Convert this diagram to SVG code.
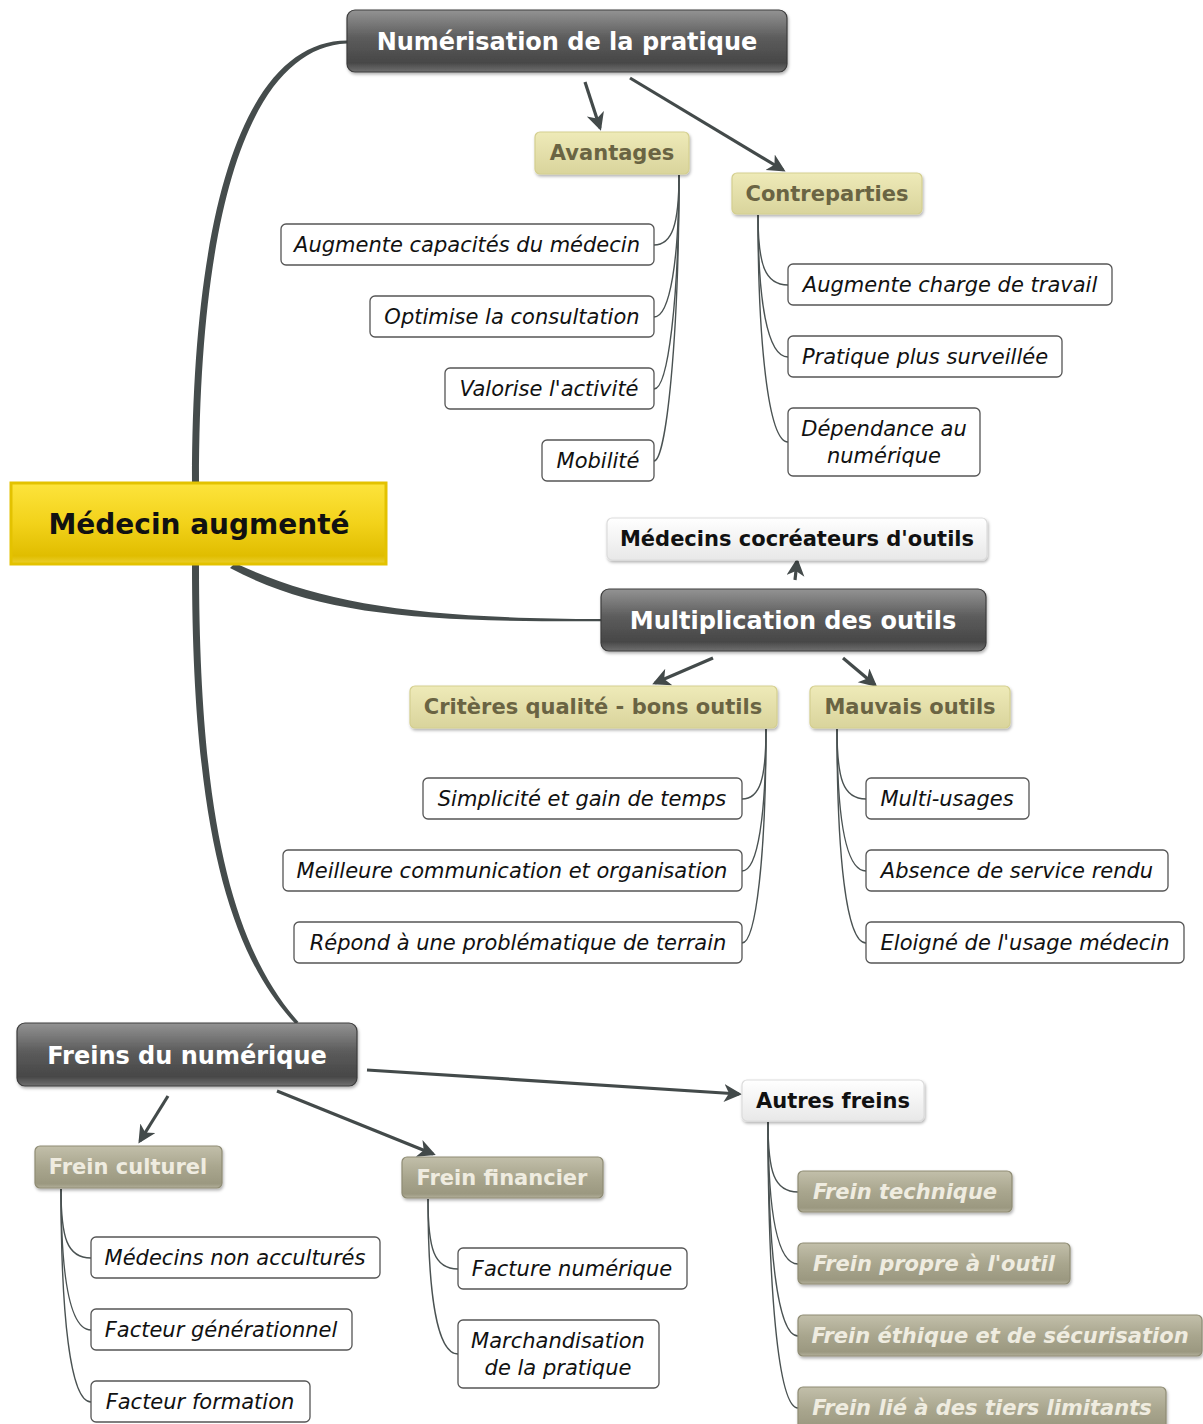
<svg xmlns="http://www.w3.org/2000/svg" width="1203" height="1424" viewBox="0 0 1203 1424">
<defs>
<linearGradient id="gDark" x1="0" y1="0" x2="0" y2="1">
<stop offset="0" stop-color="#939393"/><stop offset="0.45" stop-color="#5c5c5c"/><stop offset="0.85" stop-color="#474747"/><stop offset="1" stop-color="#707070"/>
</linearGradient>
<linearGradient id="gRoot" x1="0" y1="0" x2="0" y2="1">
<stop offset="0" stop-color="#fde43c"/><stop offset="0.5" stop-color="#f2d21a"/><stop offset="0.9" stop-color="#e0bd00"/><stop offset="1" stop-color="#ecd030"/>
</linearGradient>
<linearGradient id="gOlive" x1="0" y1="0" x2="0" y2="1">
<stop offset="0" stop-color="#eeeab8"/><stop offset="1" stop-color="#d9d49c"/>
</linearGradient>
<linearGradient id="gLight" x1="0" y1="0" x2="0" y2="1">
<stop offset="0" stop-color="#ffffff"/><stop offset="1" stop-color="#e8e8e8"/>
</linearGradient>
<linearGradient id="gGray" x1="0" y1="0" x2="0" y2="1">
<stop offset="0" stop-color="#c2bfaa"/><stop offset="0.5" stop-color="#a9a68e"/><stop offset="0.9" stop-color="#9b9880"/><stop offset="1" stop-color="#b3b09b"/>
</linearGradient>
<filter id="sh" x="-10%" y="-20%" width="120%" height="150%">
<feDropShadow dx="1" dy="2" stdDeviation="1.5" flood-color="#000" flood-opacity="0.3"/>
</filter>
<marker id="ah" markerUnits="userSpaceOnUse" markerWidth="20" markerHeight="20" refX="15" refY="9" orient="auto">
<path d="M0,0 L18,9 L0,18 L5,9 Z" fill="#434a4a"/>
</marker>
<style>
text{font-family:"DejaVu Sans","Verdana",sans-serif}
.dark rect{fill:url(#gDark);stroke:#3c3c3c;stroke-width:1.2;filter:url(#sh)}
.dark text{fill:#fff;font-weight:bold;font-size:24px;text-anchor:middle}
.root rect{fill:url(#gRoot);stroke:#e3c200;stroke-width:3}
.root text{fill:#111;font-weight:bold;font-size:28px;text-anchor:middle}
.olive rect{fill:url(#gOlive);stroke:#d4cf8f;stroke-width:1.2;filter:url(#sh)}
.olive text{fill:#6a6443;font-weight:bold;font-size:21px;text-anchor:middle}
.light rect{fill:url(#gLight);stroke:#dcdcdc;stroke-width:1.2;filter:url(#sh)}
.light text{fill:#111;font-weight:bold;font-size:21px;text-anchor:middle}
.gray rect{fill:url(#gGray);stroke:#8f8c74;stroke-width:1.2;filter:url(#sh)}
.gray text{fill:#efece0;font-weight:bold;font-size:21px;text-anchor:middle}
.gray.it text{font-style:italic}
.leaf rect{fill:#fff;stroke:#555;stroke-width:1.3}
.leaf text{fill:#111;font-style:italic;font-size:21px;text-anchor:middle}
.c path{fill:none;stroke:#4a5252;stroke-width:1.4}
.a path{fill:none;stroke:#434a4a;stroke-width:3.2;marker-end:url(#ah)}
.t path{fill:#454c4c;stroke:none}
</style>
</defs>

<g id="connectors">
<g class="t">
<path d="M192,482 C192,198 248,41 347,40.5 L347,43.5 C252,48 199,202 199,482 Z"/>
<path d="M235,563 C322,604 420,618.5 601,619 L601,621.3 C420,622 318,615 230,568 Z"/>
<path d="M192,565 C192,820 227,952 295.5,1024 L298.5,1022 C233,948 199,820 199,565 Z"/>
</g>
<g class="c">
<path d="M679,175 C679,225 672,245 654,245"/>
<path d="M679,175 C679,260 670,317 654,317"/>
<path d="M679,175 C679,300 668,389 654,389"/>
<path d="M679,175 C679,340 666,461 654,461"/>
<path d="M758,215 C758,265 765,285 788,285"/>
<path d="M758,215 C758,300 767,357 788,357"/>
<path d="M758,215 C758,340 768,442 788,442"/>
<path d="M766,729 C766,779 760,799 742,799"/>
<path d="M766,729 C766,814 758,871 742,871"/>
<path d="M766,729 C766,854 756,943 742,943"/>
<path d="M837,729 C837,779 843,799 866,799"/>
<path d="M837,729 C837,814 845,871 866,871"/>
<path d="M837,729 C837,854 846,943 866,943"/>
<path d="M61,1189 C61,1238 67,1258 91,1258"/>
<path d="M61,1189 C61,1274 69,1330 91,1330"/>
<path d="M61,1189 C61,1314 70,1402 91,1402"/>
<path d="M428,1199 C428,1249 434,1269 458,1269"/>
<path d="M428,1199 C428,1294 437,1354 458,1354"/>
<path d="M768,1122 C768,1172 774,1192 798,1192"/>
<path d="M768,1122 C768,1207 776,1264 798,1264"/>
<path d="M768,1122 C768,1247 777,1336 798,1336"/>
<path d="M768,1122 C768,1287 778,1408 798,1408"/>
</g>
<g class="a">
<path d="M585,82 L600,128"/>
<path d="M630,78 L783,170"/>
<path d="M795,580 L797,561"/>
<path d="M713,658 L655,683"/>
<path d="M843,658 L875,685"/>
<path d="M168,1096 L140,1141"/>
<path d="M277,1091 L433,1154"/>
<path d="M367,1070 L739,1094"/>
</g>
</g>

<g id="n-root" class="root"><rect x="11" y="483" width="375" height="81"/><text x="199" y="534">Médecin augmenté</text></g>

<g id="n-numerisation" class="dark"><rect x="347" y="10" width="440" height="62" rx="8"/><text x="567" y="50">Numérisation de la pratique</text></g>
<g id="n-multiplication" class="dark"><rect x="601" y="589" width="385" height="62" rx="8"/><text x="793" y="629">Multiplication des outils</text></g>
<g id="n-freins" class="dark"><rect x="17" y="1023" width="340" height="63" rx="8"/><text x="187" y="1064">Freins du numérique</text></g>

<g id="n-avantages" class="olive"><rect x="535" y="132" width="154" height="42" rx="5"/><text x="612" y="160">Avantages</text></g>
<g id="n-contreparties" class="olive"><rect x="732" y="173" width="190" height="41" rx="5"/><text x="827" y="201">Contreparties</text></g>
<g id="n-criteres" class="olive"><rect x="410" y="686" width="367" height="42" rx="5"/><text x="593" y="714">Critères qualité - bons outils</text></g>
<g id="n-mauvais" class="olive"><rect x="810" y="686" width="200" height="42" rx="5"/><text x="910" y="714">Mauvais outils</text></g>

<g id="n-cocreateurs" class="light"><rect x="607" y="518" width="380" height="42" rx="5"/><text x="797" y="546">Médecins cocréateurs d'outils</text></g>
<g id="n-autres" class="light"><rect x="742" y="1080" width="182" height="41" rx="5"/><text x="833" y="1108">Autres freins</text></g>

<g id="n-culturel" class="gray"><rect x="35" y="1146" width="187" height="42" rx="5"/><text x="128" y="1174">Frein culturel</text></g>
<g id="n-financier" class="gray"><rect x="402" y="1157" width="201" height="41" rx="5"/><text x="502" y="1185">Frein financier</text></g>
<g id="n-technique" class="gray it"><rect x="798" y="1171" width="214" height="41" rx="5"/><text x="905" y="1199">Frein technique</text></g>
<g id="n-propre" class="gray it"><rect x="798" y="1243" width="272" height="41" rx="5"/><text x="934" y="1271">Frein propre à l'outil</text></g>
<g id="n-ethique" class="gray it"><rect x="798" y="1315" width="404" height="41" rx="5"/><text x="1000" y="1343">Frein éthique et de sécurisation</text></g>
<g id="n-tiers" class="gray it"><rect x="798" y="1387" width="368" height="45" rx="5"/><text x="982" y="1415">Frein lié à des tiers limitants</text></g>

<g id="n-a1" class="leaf"><rect x="281" y="224" width="373" height="41" rx="5"/><text x="467" y="252">Augmente capacités du médecin</text></g>
<g id="n-a2" class="leaf"><rect x="370" y="296" width="284" height="41" rx="5"/><text x="512" y="324">Optimise la consultation</text></g>
<g id="n-a3" class="leaf"><rect x="445" y="368" width="209" height="41" rx="5"/><text x="549" y="396">Valorise l'activité</text></g>
<g id="n-a4" class="leaf"><rect x="542" y="440" width="112" height="41" rx="5"/><text x="598" y="468">Mobilité</text></g>

<g id="n-c1" class="leaf"><rect x="788" y="264" width="324" height="41" rx="5"/><text x="950" y="292">Augmente charge de travail</text></g>
<g id="n-c2" class="leaf"><rect x="788" y="336" width="274" height="41" rx="5"/><text x="925" y="364">Pratique plus surveillée</text></g>
<g id="n-c3" class="leaf"><rect x="788" y="408" width="192" height="68" rx="5"/><text x="884" y="436">Dépendance au</text><text x="884" y="463">numérique</text></g>

<g id="n-q1" class="leaf"><rect x="423" y="778" width="319" height="41" rx="5"/><text x="582" y="806">Simplicité et gain de temps</text></g>
<g id="n-q2" class="leaf"><rect x="283" y="850" width="459" height="41" rx="5"/><text x="512" y="878">Meilleure communication et organisation</text></g>
<g id="n-q3" class="leaf"><rect x="294" y="922" width="448" height="41" rx="5"/><text x="518" y="950">Répond à une problématique de terrain</text></g>

<g id="n-m1" class="leaf"><rect x="866" y="778" width="163" height="41" rx="5"/><text x="947" y="806">Multi-usages</text></g>
<g id="n-m2" class="leaf"><rect x="866" y="850" width="302" height="41" rx="5"/><text x="1017" y="878">Absence de service rendu</text></g>
<g id="n-m3" class="leaf"><rect x="866" y="922" width="318" height="41" rx="5"/><text x="1025" y="950">Eloigné de l'usage médecin</text></g>

<g id="n-fc1" class="leaf"><rect x="91" y="1237" width="289" height="41" rx="5"/><text x="235" y="1265">Médecins non acculturés</text></g>
<g id="n-fc2" class="leaf"><rect x="91" y="1309" width="261" height="41" rx="5"/><text x="221" y="1337">Facteur générationnel</text></g>
<g id="n-fc3" class="leaf"><rect x="91" y="1381" width="219" height="41" rx="5"/><text x="200" y="1409">Facteur formation</text></g>

<g id="n-ff1" class="leaf"><rect x="458" y="1248" width="229" height="41" rx="5"/><text x="572" y="1276">Facture numérique</text></g>
<g id="n-ff2" class="leaf"><rect x="458" y="1320" width="201" height="68" rx="5"/><text x="558" y="1348">Marchandisation</text><text x="558" y="1375">de la pratique</text></g>
</svg>
